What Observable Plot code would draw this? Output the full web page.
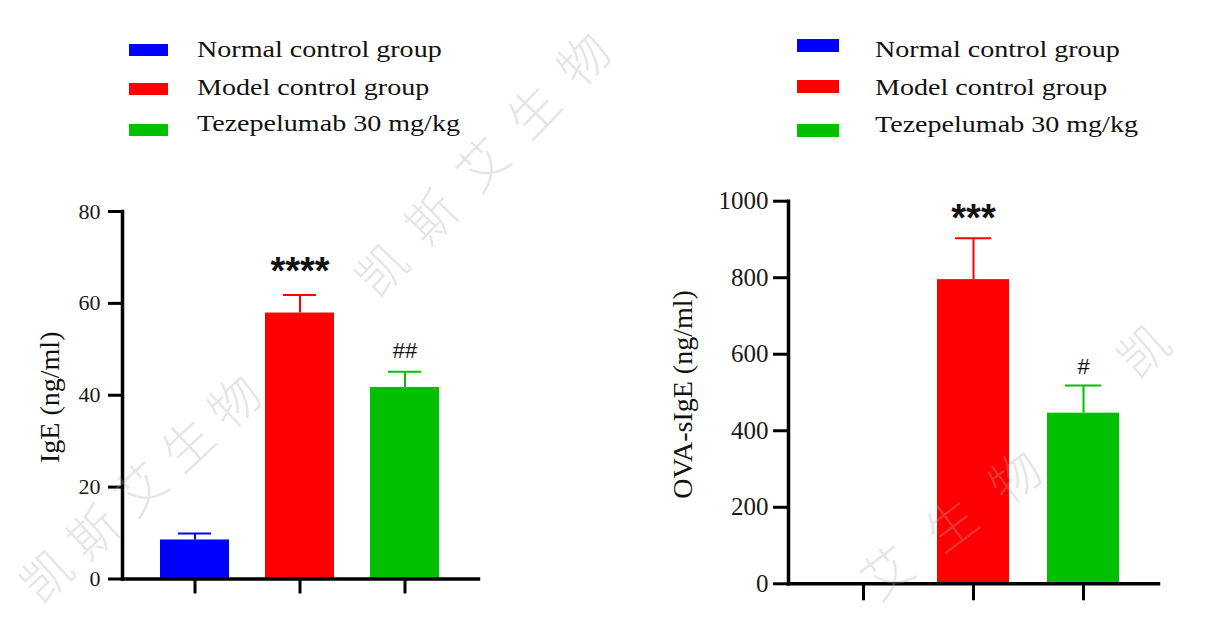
<!DOCTYPE html>
<html>
<head>
<meta charset="utf-8">
<script src="https://cdn.jsdelivr.net/npm/d3@7"></script>
<script src="https://cdn.jsdelivr.net/npm/@observablehq/plot@0.6"></script>
<style>
  html, body { margin: 0; padding: 0; background: #fff; }
  #root { position: relative; width: 1218px; height: 621px; overflow: hidden; background: #fff; }
  .panel { position: absolute; top: 0; }
  .legend { position: absolute; font-family: 'Liberation Serif', 'Times New Roman', serif; color: #111; }
  .sw { position: absolute; }
  .lt { position: absolute; font-size: 23px; line-height: 23px; white-space: nowrap; transform: scaleX(1.22); transform-origin: left center; }
  .wm { position: absolute; font-family: 'Noto Sans CJK SC', sans-serif; font-weight: 200; font-size: 50px; line-height: 50px;
        color: rgba(170,170,170,0.30); white-space: nowrap; pointer-events: none; }
</style>
</head>
<body>
<div id="root"></div>
<script>
// ---- data ----
const groups = ["Normal control group", "Model control group", "Tezepelumab 30 mg/kg"];
const colors = ["#0000ff", "#ff0000", "#00c000"];

const igeLabel = "IgE (ng/ml)";
const igeMean = [8.5, 57.9, 41.7];
const igeSem = [1.4, 3.9, 3.4];
const igeSig = ["", "****", "##"];
const igeTicks = [0, 20, 40, 60, 80];

const ovaLabel = "OVA-sIgE (ng/ml)";
const ovaMean = [0, 795, 446];
const ovaSem = [0, 108, 72];
const ovaSig = ["", "***", "#"];
const ovaTicks = [0, 200, 400, 600, 800, 1000];

const watermark = "凯斯艾生物";

// ---- drawing ----
const root = document.getElementById("root");

function panel(cfg) {
  const rows = groups.map((g, i) => ({group: g, mean: cfg.mean[i], sem: cfg.sem[i], sig: cfg.sig[i]}));
  const err = rows.filter(d => d.sem > 0);
  const stars = rows.filter(d => d.sig.startsWith("*"));
  const hashes = rows.filter(d => d.sig.startsWith("#"));
  const top = d => d.mean + d.sem;
  return Plot.plot({
    width: cfg.width, height: 621,
    marginLeft: cfg.ml, marginRight: cfg.mr, marginTop: cfg.mt, marginBottom: cfg.mb,
    style: {fontFamily: "'Liberation Serif', 'Times New Roman', serif", background: "transparent", color: "#111", overflow: "visible"},
    x: {domain: groups, paddingInner: cfg.pi, paddingOuter: cfg.po, axis: null},
    y: {domain: [0, cfg.ticks[cfg.ticks.length - 1]], axis: null},
    color: {domain: groups, range: colors},
    marks: [
      Plot.barY(rows, {x: "group", y: "mean", fill: "group"}),
      Plot.ruleX(err, {x: "group", y1: "mean", y2: top, stroke: "group", strokeWidth: 2}),
      Plot.tickY(err, {x: "group", y: top, stroke: "group", strokeWidth: 2, insetLeft: 18, insetRight: 18}),
      Plot.axisY({ticks: cfg.ticks, tickSize: cfg.yts, tickPadding: cfg.ytp, strokeWidth: 3, fontSize: cfg.tf, tickFormat: d => String(d), label: null, stroke: "#000", fill: "#1a1a1a"}),
      Plot.axisX({tickSize: cfg.xts, strokeWidth: 3, tickFormat: () => "", label: null, stroke: "#000"}),
      Plot.frame({anchor: "left", stroke: "#000", strokeWidth: 3.5}),
      Plot.frame({anchor: "bottom", stroke: "#000", strokeWidth: 3.5}),
      Plot.text([cfg.label], {frameAnchor: "left", textAnchor: "middle", rotate: -90, dx: cfg.ldx, dy: cfg.ldy, fontSize: 28, fill: "#111"}),
      Plot.text(stars, {x: "group", y: top, text: "sig", lineAnchor: "bottom", dy: cfg.sdy, fontSize: 38, fontWeight: "bold", fontFamily: "'Liberation Sans', Arial, sans-serif", fill: "#111"}),
      Plot.text(hashes, {x: "group", y: top, text: "sig", lineAnchor: "bottom", dy: cfg.hdy, fontSize: 22, fontFamily: "'Liberation Sans', Arial, sans-serif", fill: "#111"})
    ]
  });
}

function place(el, left) {
  el.classList.add("panel");
  el.style.left = left + "px";
  root.appendChild(el);
}

place(panel({
  mean: igeMean, sem: igeSem, sig: igeSig, ticks: igeTicks, label: igeLabel,
  width: 609, ml: 122, mr: 131, mt: 211, mb: 42.5, pi: 0.34, po: 0.35,
  yts: 14, ytp: 8, tf: 22, xts: 15, ldx: -72, ldy: 2, sdy: -11, hdy: -14
}), 0);

place(panel({
  mean: ovaMean, sem: ovaSem, sig: ovaSig, ticks: ovaTicks, label: ovaLabel,
  width: 609, ml: 179, mr: 60, mt: 200.7, mb: 37.7, pi: 0.342, po: 0.338,
  yts: 15, ytp: 5, tf: 25, xts: 17, ldx: -105, ldy: 2, sdy: -7.5, hdy: -11.5
}), 609);

// legends
function legend(x0, swW, swH, swCenters, textX, baselines) {
  groups.forEach((g, i) => {
    const sw = document.createElement("div");
    sw.className = "sw";
    Object.assign(sw.style, {left: x0 + "px", top: (swCenters[i] - swH / 2) + "px", width: swW + "px", height: swH + "px", background: colors[i]});
    root.appendChild(sw);
    const t = document.createElement("div");
    t.className = "legend lt";
    t.textContent = g;
    Object.assign(t.style, {left: textX + "px", top: (baselines[i] - 19.3) + "px"});
    root.appendChild(t);
  });
}
legend(129, 39, 12, [49.5, 89, 129.5], 197, [57, 95, 131]);
legend(797, 42, 13, [45, 86, 130], 875, [57, 95, 132]);

// watermarks: one glyph per position along a diagonal (only glyphs inside the picture)
function wm(cx, cy, angle, step, maxX) {
  const a = angle * Math.PI / 180;
  [...watermark].forEach((ch, i) => {
    const k = i - 2;
    const x = cx + k * step * Math.cos(a), y = cy + k * step * Math.sin(a);
    if (x < 20 || x > maxX || y < 20 || y > 600) return;
    const d = document.createElement("div");
    d.className = "wm";
    d.textContent = ch;
    root.appendChild(d);
    const w = d.offsetWidth, h = d.offsetHeight;
    d.style.left = (x - w / 2) + "px";
    d.style.top = (y - h / 2) + "px";
    d.style.transform = `rotate(${angle}deg)`;
  });
}
wm(138, 486, -43, 64, 1200);
wm(480, 162, -46, 73, 1200);
wm(885, 570, -37, 80, 1200);
wm(1248, 252, -42, 72, 1160);
</script>
</body>
</html>
